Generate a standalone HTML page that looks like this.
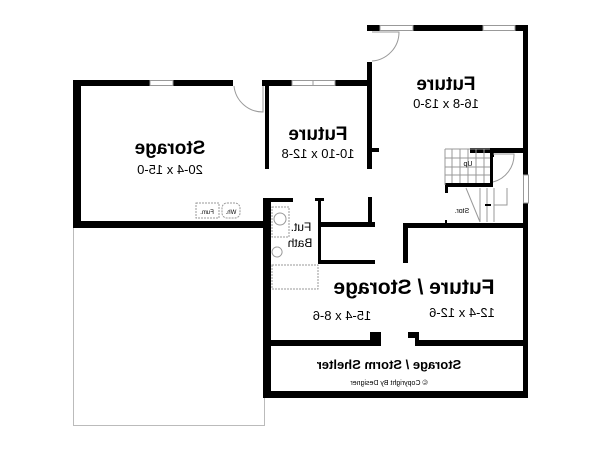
<!DOCTYPE html>
<html><head><style>html,body{margin:0;padding:0;background:#fff}svg{display:block}</style></head><body>
<svg width="600" height="464" viewBox="0 0 600 464" xmlns="http://www.w3.org/2000/svg" font-family="Liberation Sans, sans-serif">
<rect width="600" height="464" fill="#fff"/>
<!-- garage outline -->
<path d="M73.5 228 V425.5 H264.5 V228" fill="none" stroke="#bbb" stroke-width="1"/>
<g fill="#000">
<!-- Storage room -->
<rect x="73" y="80" width="8" height="148"/>
<rect x="73" y="80" width="77" height="6"/>
<rect x="173" y="80" width="60" height="6"/>
<rect x="262" y="80" width="30" height="6"/>
<rect x="335" y="80" width="35" height="6"/>
<rect x="73" y="221" width="192" height="7"/>
<rect x="265" y="84" width="4" height="85"/>
<!-- right future -->
<rect x="367" y="25" width="13" height="6"/>
<rect x="413" y="25" width="70" height="6"/>
<rect x="515" y="25" width="13" height="6"/>
<rect x="367" y="25" width="5" height="6"/>
<rect x="367" y="62" width="5" height="107"/>
<rect x="367" y="148" width="12" height="4"/>
<rect x="523" y="25" width="5" height="150"/>
<rect x="523" y="203" width="5" height="195"/>
<!-- stair walls -->
<rect x="470" y="148" width="58" height="5"/>
<rect x="445" y="183" width="48" height="4"/>
<rect x="490" y="153" width="3" height="34"/>
<rect x="445" y="183" width="3" height="10"/>
<rect x="491" y="153" width="3" height="4"/>
<!-- middle bath area -->
<rect x="263" y="198" width="8" height="200"/>
<rect x="271" y="198" width="22" height="4"/>
<rect x="315" y="198" width="9" height="3"/>
<rect x="318" y="198" width="3" height="28"/>
<rect x="318" y="222" width="57" height="5"/>
<rect x="368" y="197" width="4" height="28"/>
<rect x="318" y="260" width="57" height="4"/>
<rect x="318" y="227" width="3" height="37"/>
<rect x="403" y="223" width="125" height="5"/>
<rect x="403" y="223" width="5" height="40"/>
<rect x="445" y="220" width="2" height="4"/>
<!-- lower -->
<rect x="263" y="391" width="265" height="7"/>
<rect x="263" y="340" width="118" height="6"/>
<rect x="370" y="332" width="11" height="14"/>
<rect x="408" y="332" width="11" height="6"/>
<rect x="415" y="332" width="4" height="14"/>
<rect x="415" y="340" width="113" height="6"/>
</g>
<!-- windows -->
<g fill="none" stroke="#999" stroke-width="1">
<rect x="150" y="80.5" width="23" height="5"/>
<rect x="292" y="80.5" width="43" height="5"/>
<line x1="313" y1="80" x2="313" y2="86"/>
<rect x="380" y="25.5" width="33" height="5"/>
<rect x="483" y="25.5" width="32" height="5"/>
<rect x="523.5" y="175" width="5" height="28"/>
<!-- doors -->
<path d="M263 86 V112 A29 29 0 0 1 234 86"/>
<path d="M372 32 H399 A29 29 0 0 1 372 61"/>
<path d="M493 154 H514 A28 28 0 0 1 493 182"/>
<!-- stairs -->
<path d="M445 149 H490 M445 185 V149 M452 149 V183 M460 149 V183 M468 149 V183 M476 149 V183 M484 149 V183 M445 158 H490 M445 167 H490 M445 175 H490"/>
<path d="M466 188 L480 222 M480 188 V222 M487 188 V222 M494 188 V222 M494 205 H507 V188"/>
<!-- furnace -->
<rect x="196" y="203" width="23" height="15" stroke-dasharray="2 1"/>
<rect x="222" y="203" width="18" height="15" stroke-dasharray="2 1" rx="5"/>
<!-- bath fixtures -->
<circle cx="280" cy="219" r="6"/>
<rect x="272" y="207" width="17" height="30" stroke-dasharray="2 1"/>
<rect x="272" y="265" width="46" height="24" stroke-dasharray="2 1"/>
<path d="M277 247 a5 5 0 1 0 0.1 0"/>
</g>
<path d="M491 205 L485 205" stroke="#000" stroke-width="2"/>
<g fill="#000" text-anchor="middle" font-weight="bold">
<text transform="translate(170,154) scale(-1,1)" font-size="19">Storage</text>
<text transform="translate(170,174) scale(-1,1)" font-size="13" font-weight="normal">20-4 x 15-0</text>
<text transform="translate(318,140) scale(-1,1)" font-size="19">Future</text>
<text transform="translate(318,158) scale(-1,1)" font-size="13" font-weight="normal">10-10 x 12-8</text>
<text transform="translate(446,90) scale(-1,1)" font-size="19">Future</text>
<text transform="translate(446,108) scale(-1,1)" font-size="13" font-weight="normal">16-8 x 13-0</text>
<text transform="translate(301,231) scale(-1,1)" font-size="12" font-weight="normal">Fut.</text>
<text transform="translate(300,247) scale(-1,1)" font-size="12" font-weight="normal">Bath</text>
<text transform="translate(414,294) scale(-1,1)" font-size="21">Future / Storage</text>
<text transform="translate(342,320) scale(-1,1)" font-size="13" font-weight="normal">15-4 x 8-6</text>
<text transform="translate(462,317) scale(-1,1)" font-size="13" font-weight="normal">12-4 x 12-6</text>
<text transform="translate(389,369) scale(-1,1)" font-size="13">Storage / Storm Shelter</text>
<text transform="translate(389,385) scale(-1,1)" font-size="7" font-weight="normal">© Copyright By Designer</text>
<text transform="translate(468,166) scale(-1,1)" font-size="7" font-weight="normal">Up</text>
<text transform="translate(462,213) scale(-1,1)" font-size="7" font-weight="normal">Stor.</text>
<text transform="translate(207,214) scale(-1,1)" font-size="6" font-weight="normal">Fum.</text>
<text transform="translate(231,214) scale(-1,1)" font-size="6" font-weight="normal">Wh.</text>
</g>
</svg>
</body></html>
